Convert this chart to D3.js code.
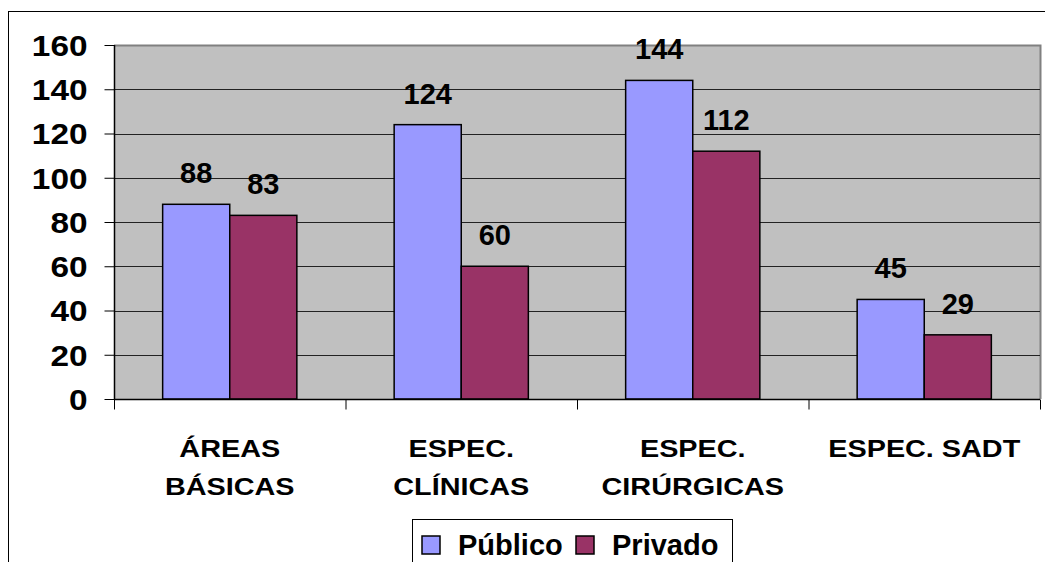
<!DOCTYPE html>
<html><head><meta charset="utf-8">
<script src="https://cdn.jsdelivr.net/npm/d3@7"></script>
<style>html,body{margin:0;padding:0;background:#fff;overflow:hidden}text{font-family:Arial,"Liberation Sans",sans-serif;font-weight:bold;fill:#000}</style>
</head><body>
<svg id="chart" width="1045" height="562"></svg>
<script>
const categories = [["ÁREAS","BÁSICAS"],["ESPEC.","CLÍNICAS"],["ESPEC.","CIRÚRGICAS"],["ESPEC. SADT"]];
const seriesNames = ["Público","Privado"];
const publico = [88,124,144,45];
const privado = [83,60,112,29];
const yTicks = [0,20,40,60,80,100,120,140,160];
const colors = ["#9999FF","#993366"];

const svg = d3.select("#chart");
const plot = {left:114, top:45, right:1040, bottom:399};

// outer border
svg.append("rect").attr("x",8.5).attr("y",11.5).attr("width",1100).attr("height",600)
  .attr("fill","#fff").attr("stroke","#000").attr("stroke-width",1);

const x0 = d3.scaleBand().domain(d3.range(categories.length)).range([plot.left,plot.right]).paddingInner(0).paddingOuter(0);
const x1 = d3.scaleBand().domain(d3.range(seriesNames.length)).range([0,x0.bandwidth()]).paddingInner(0).paddingOuter(0.725);
const y = d3.scaleLinear().domain([0,160]).range([plot.bottom,plot.top]);

// plot background
svg.append("rect").attr("x",plot.left).attr("y",plot.top).attr("width",plot.right-plot.left).attr("height",plot.bottom-plot.top)
  .attr("fill","#C0C0C0");
// gray border top/right
svg.append("path").attr("d",`M${plot.left},${plot.top+0.5}H${plot.right+0.5}V${plot.bottom}`)
  .attr("fill","none").attr("stroke","#808080").attr("stroke-width",2);

// gridlines
svg.append("g").selectAll("line").data(yTicks.filter(d=>d>0 && d<160)).join("line")
  .attr("x1",plot.left).attr("x2",plot.right).attr("y1",d=>Math.round(y(d))+0.5).attr("y2",d=>Math.round(y(d))+0.5)
  .attr("stroke","#222").attr("stroke-width",1);

// bars
const data = categories.map((c,i)=>[publico[i],privado[i]]);
const groups = svg.append("g").selectAll("g").data(data).join("g")
  .attr("transform",(d,i)=>`translate(${x0(i)},0)`);
groups.selectAll("rect").data(d=>d).join("rect")
  .attr("x",(d,j)=>x1(j)).attr("width",x1.bandwidth())
  .attr("y",d=>y(d)).attr("height",d=>y(0)-y(d))
  .attr("fill",(d,j)=>colors[j]).attr("stroke","#000").attr("stroke-width",1.5);
groups.selectAll("text").data(d=>d).join("text")
  .attr("x",(d,j)=>x1(j)+x1.bandwidth()/2).attr("y",d=>y(d)-21)
  .attr("text-anchor","middle").style("font-size","29px").text(d=>d);

// y axis
const yAxis = d3.axisLeft(y).tickValues(yTicks).tickSize(10).tickPadding(17).tickFormat(d3.format("d"));
const ya = svg.append("g").attr("transform",`translate(${plot.left+0.5},0)`).call(yAxis);
ya.select(".domain").attr("stroke","#000").attr("stroke-width",1.5).attr("d",`M0,${plot.top}V${plot.bottom}`);
ya.selectAll(".tick line").attr("stroke","#000");
ya.selectAll(".tick text").attr("font-family",null).attr("font-size",null).style("font-size","29px")
  .attr("dy","0.36em").attr("x",null)
  .attr("transform","translate(-27,0) scale(1.15,1)");

// x axis
const xAxis = d3.axisBottom(d3.scaleLinear().domain([0,categories.length]).range([plot.left,plot.right]))
  .tickValues(d3.range(categories.length+1)).tickSize(10).tickFormat("");
const xa = svg.append("g").attr("transform",`translate(0,${plot.bottom+0.5})`).call(xAxis);
xa.select(".domain").attr("stroke","#000").attr("stroke-width",1.5).attr("d",`M${plot.left},0H${plot.right}`);
xa.selectAll(".tick line").attr("stroke","#000");

// category labels
const cl = svg.append("g").selectAll("text").data(categories).join("text")
  .attr("transform",(d,i)=>`translate(${x0(i)+x0.bandwidth()/2},457) scale(1.2,1)`)
  .attr("text-anchor","middle").style("font-size","24px");
cl.selectAll("tspan").data(d=>d).join("tspan").attr("x",0).attr("y",(d,k)=>k*38).text(d=>d);

// legend
const lg = svg.append("g");
lg.append("rect").attr("x",412.5).attr("y",519.5).attr("width",320).attr("height",60)
  .attr("fill","#fff").attr("stroke","#000").attr("stroke-width",1);
const legX = [422,576];
const li = lg.selectAll("g").data(seriesNames).join("g").attr("transform",(d,i)=>`translate(${legX[i]},0)`);
li.append("rect").attr("x",0).attr("y",536).attr("width",18).attr("height",18)
  .attr("fill",(d,i)=>colors[i]).attr("stroke","#000").attr("stroke-width",1.5);
li.append("text").attr("x",36).attr("y",555).style("font-size","29px").text(d=>d);
</script>
</body></html>
